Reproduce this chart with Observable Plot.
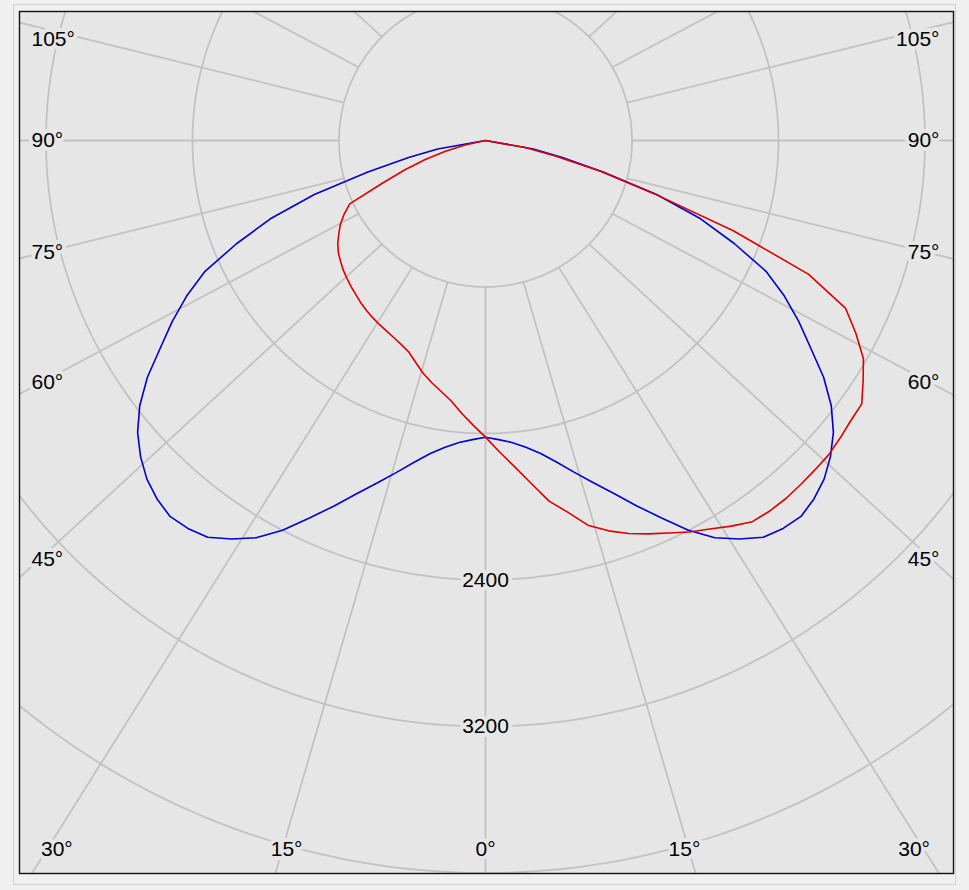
<!DOCTYPE html>
<html><head><meta charset="utf-8">
<script src="https://cdn.jsdelivr.net/npm/d3@7"></script>
<script src="https://cdn.jsdelivr.net/npm/@observablehq/plot@0.6"></script>
<style>
html,body{margin:0;padding:0;background:#f0f0f0;}
#wrap{position:relative;width:969px;height:890px;}
#outer{position:absolute;left:13px;top:4px;width:943px;height:881px;border:1px solid #d0d0d0;box-sizing:border-box;}
#chart{position:absolute;left:0;top:0;}
</style></head><body>
<div id="wrap"><div id="outer"></div><div id="chart"></div></div>
<script>
// Gamma angles (degrees from nadir)
const angles = [0,2.5,5,7.5,10,12.5,15,17.5,20,22.5,25,27.5,30,32.5,35,37.5,40,42.5,45,47.5,50,52.5,55,57.5,60,62.5,65,67.5,70,72.5,75,77.5,80,82.5,85,87.5,90];
// Blue plane (symmetric), cd
const blueIntensity = [1620,1635,1655,1690,1736,1800,1876,1960,2051,2160,2275,2400,2505,2580,2645,2670,2680,2655,2615,2555,2480,2380,2254,2104,1975,1840,1690,1470,1250,980,665,430,265,0,0,0,0];
// Red plane, left half (cd)
const redLeft = [1620,1556,1495,1435,1392,1355,1316,1270,1228,1205,1187,1172,1160,1147,1133,1118,1100,1085,1068,1052,1032,1012,985,950,915,870,818,610,468,345,230,115,0,0,0,0,0];
// Red plane, right half (cd)
const redRight = [1620,1700,1785,1885,2000,2080,2177,2235,2284,2325,2365,2410,2450,2497,2541,2550,2552,2548,2544,2541,2528,2514,2508,2445,2383,2280,2170,1910,1440,965,650,390,215,0,0,0,0];

const ringValues = [800,1600,2400,3200,4000];
const ringLabelValues = [2400,3200];
const spokeAngles = [-135,-120,-105,-90,-75,-60,-45,-30,-15,0,15,30,45,60,75,90,105,120,135];
const sideTickAngles = [45,60,75,90,105];
const bottomTickAngles = [0,15,30];

// layout (pixels)
const W = 969, H = 890;
const cx = 485, cy = 140;
const frameL = 19, frameT = 11, frameR = 953, frameB = 873;
const s = 146.5 / 800;            // px per cd
const spokeInner = 800;           // spokes start at first ring
const spokeSquash = 0.92;         // original renderer's spoke skew
const labelSquash = 0.955;

const rad = d => d * Math.PI / 180;
const polar = (deg, I) => ({x: I * Math.sin(rad(deg)), y: -I * Math.cos(rad(deg))});

// curves
function curve(left, right, name) {
  const pts = [];
  for (let i = angles.length - 1; i >= 0; i--) pts.push({...polar(-angles[i], left[i]), name});
  for (let i = 1; i < angles.length; i++) pts.push({...polar(angles[i], right[i]), name});
  return pts;
}
const redPts = curve(redLeft, redRight, "red");
const bluePts = curve(blueIntensity, blueIntensity, "blue");

// rings
const ringPts = ringValues.flatMap(v => d3.range(0, 361, 1).map(a => ({...polar(a, v), ring: v})));

// spokes
const spokes = spokeAngles.map(a => {
  const p = polar(a, spokeInner);
  const L = 8000;
  return {x1: p.x, y1: p.y, x2: p.x + L * Math.sin(rad(a)), y2: p.y - L * spokeSquash * Math.cos(rad(a))};
});

// angle labels (kept inside an inset box)
const boxX = (cx - 47) / s;
const boxTop = (cy - 39) / s;
const leftTextX = (31 - cx) / s, rightTextX = (939 - cx) / s;
const sideLabels = sideTickAngles.map(a => ({a, y: Math.min(boxTop, -labelSquash * boxX * Math.cos(rad(a)) / Math.sin(rad(a)))}));
const bottomY = (849 - cy) / s;
const bottomLabels = bottomTickAngles.flatMap(a => a === 0 ? [{a, x: 0}] :
  [{a, x: -bottomY * Math.tan(rad(a)) / labelSquash}, {a, x: bottomY * Math.tan(rad(a)) / labelSquash}]);

const bg = "#e6e6e6";
const grid = "#c2c2c2";
const font = "'Liberation Sans', Arial, sans-serif";
const textOpts = {fontSize: 21, fontFamily: font, fill: "black", stroke: bg, strokeWidth: 8, paintOrder: "stroke"};

const chart = Plot.plot({
  width: W, height: H,
  marginLeft: frameL, marginTop: frameT, marginRight: W - frameR, marginBottom: H - frameB,
  x: {domain: [(frameL - cx) / s, (frameR - cx) / s], axis: null},
  y: {domain: [(cy - frameB) / s, (cy - frameT) / s], axis: null},
  style: {background: "transparent", fontFamily: font, fontSize: "21px", overflow: "visible"},
  marks: [
    Plot.frame({fill: bg}),
    Plot.line(ringPts, {x: "x", y: "y", z: "ring", stroke: grid, strokeWidth: 1.8, clip: true}),
    Plot.link(spokes, {x1: "x1", y1: "y1", x2: "x2", y2: "y2", stroke: grid, strokeWidth: 1.8, clip: true}),
    Plot.text(ringLabelValues, {x: () => 0, y: d => -d, text: d => String(d), ...textOpts}),
    Plot.text(sideLabels, {x: () => leftTextX, y: "y", text: d => d.a + "°", textAnchor: "start", ...textOpts}),
    Plot.text(sideLabels, {x: () => rightTextX, y: "y", text: d => d.a + "°", textAnchor: "end", ...textOpts}),
    Plot.text(bottomLabels, {x: "x", y: () => -bottomY, text: d => d.a + "°", ...textOpts}),
    Plot.line(bluePts, {x: "x", y: "y", stroke: "#0000cc", strokeWidth: 1.6, clip: true}),
    Plot.line(redPts, {x: "x", y: "y", stroke: "#dd0000", strokeWidth: 1.6, clip: true}),
    Plot.frame({stroke: "#111", strokeWidth: 1.4})
  ]
});
document.getElementById("chart").appendChild(chart);
</script>
</body></html>
